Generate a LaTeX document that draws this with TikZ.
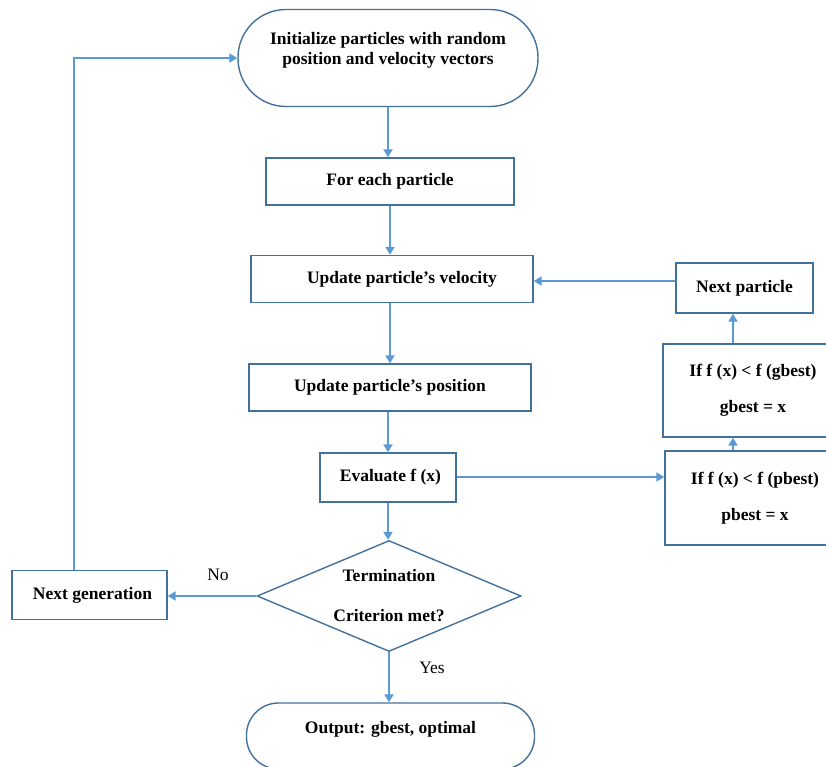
\documentclass[tikz,border=0pt]{standalone}
\usepackage{fontspec}
\setmainfont{Liberation Serif}
\usetikzlibrary{arrows.meta,shapes.geometric}
\definecolor{boxc}{HTML}{41719C}
\definecolor{arrc}{HTML}{5B9BD5}
\begin{document}
\begin{tikzpicture}[x=1pt,y=-1pt,
  font=\fontsize{17.5}{20}\selectfont\bfseries,
  box/.style={draw=boxc, line width=1.4pt, rectangle, align=center, inner sep=0pt},
  term/.style={box, rounded corners=#1},
  arr/.style={draw=arrc, line width=2pt, -{Triangle[width=9pt,length=8pt]}},
  lbl/.style={font=\fontsize{17.5}{20}\selectfont}]
\clip (0,0) rectangle (826,767);
\useasboundingbox (0,0) rectangle (826,767);

\node[term=48pt, minimum width=300pt, minimum height=97pt, text depth=20pt] (start) at (388,58) {Initialize particles with random\\position and velocity vectors};
\node[box, minimum width=248pt, minimum height=47pt] (each) at (390,181.5) {For each particle};
\node[box, minimum width=282pt, minimum height=47pt] (vel) at (392,279) {\hspace*{20pt}Update particle’s velocity};
\node[box, minimum width=282pt, minimum height=47pt] (pos) at (390,387.5) {Update particle’s position};
\node[box, minimum width=136pt, minimum height=49pt] (eval) at (388,477.5) {\hspace*{5pt}Evaluate f (x)};
\node[diamond, aspect=2.4, draw=boxc, line width=1.4pt, minimum width=264pt, minimum height=111pt, inner sep=0pt, align=center] (crit) at (389,596) {Termination\\[20pt]Criterion met?};
\node[box, minimum width=155pt, minimum height=49pt] (nextgen) at (89.5,595) {\hspace*{6pt}Next generation};
\node[term=32pt, minimum width=288pt, minimum height=66pt, text depth=17pt] (out) at (390.5,736) {Output: gbest, optimal};
\node[box, minimum width=137pt, minimum height=50pt] (nextp) at (744.5,288) {Next particle};
\node[box, minimum width=180pt, minimum height=93pt] (gb) at (753,390.5) {If f (x) < f (gbest)\\[16pt]gbest = x};
\node[box, minimum width=180pt, minimum height=94pt] (pb) at (755,498) {If f (x) < f (pbest)\\[16pt]pbest = x};

\node[lbl] (no) at (218,575) {No};
\node[lbl] (yes) at (432,668) {Yes};

\coordinate (lc) at (74,58);
\coordinate (ux) at (733,0);
\coordinate (vy) at (0,281);
\coordinate (ey) at (0,477);

\draw[arr] (start.south) -- (start.south |- each.north);
\draw[arr] (each.south) -- (each.south |- vel.north);
\draw[arr] (pos.north |- vel.south) -- (pos.north);
\draw[arr] (eval.north |- pos.south) -- (eval.north);
\draw[arr] (eval.south) -- (eval.south |- crit.north);
\draw[arr] (crit.west) -- (crit.west -| nextgen.east);
\draw[arr] (crit.south) -- (crit.south |- out.north);
\draw[arr] (lc |- nextgen.north) -- (lc) -- (start.west);
\draw[arr] (eval.east |- ey) -- (pb.west |- ey);
\draw[arr] (ux |- pb.north) -- (ux |- gb.south);
\draw[arr] (ux |- gb.north) -- (ux |- nextp.south);
\draw[arr] (nextp.west |- vy) -- (vel.east |- vy);
\end{tikzpicture}
\end{document}
